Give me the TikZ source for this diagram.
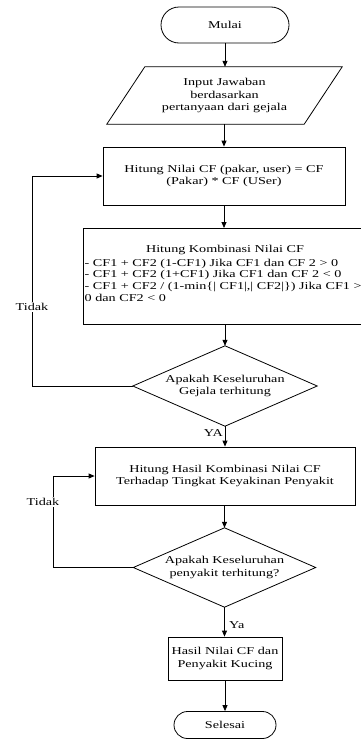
\documentclass[tikz,border=0pt]{standalone}
\usepackage{fontspec}
\setmainfont{Liberation Serif}[FakeStretch=1.35]
\usetikzlibrary{arrows.meta}
\begin{document}
\begin{tikzpicture}[x=1pt,y=-1pt,
  lbl/.style={font=\fontsize{10.5}{12.8}\selectfont, inner sep=0pt, align=center},
  boxn/.style={lbl, draw, line width=0.8pt},
  term/.style={lbl, draw, line width=0.8pt, rounded corners=#1},
  outline/.style={draw, line width=0.8pt},
  arr/.style={line width=0.8pt, -{Triangle[length=6pt,width=5pt]}},
  conn/.style={line width=0.8pt}
]
\useasboundingbox (0,0) rectangle (360,739);
% terminator start
\node[term=18pt, minimum width=128pt, minimum height=36pt] (start) at (225,25) {Mulai};
% input parallelogram
\node[lbl, minimum width=159pt, minimum height=57pt] (input) at (224.5,95.5) {Input Jawaban\\berdasarkan\\pertanyaan dari gejala};
\draw[outline] (input.north west) -- ([xshift=38pt]input.north east) -- (input.south east) -- ([xshift=-38pt]input.south west) -- cycle;
% box1
\node[boxn, minimum width=242pt, minimum height=58pt] (box1) at (224,176) {Hitung Nilai CF (pakar, user) = CF\\(Pakar) * CF (USer)};
% box2
\node[draw, line width=0.8pt, minimum width=290pt, minimum height=96pt, anchor=north west, inner sep=0pt] (box2) at (83,228) {};
\node[lbl] (box2t) at (225,250) {Hitung Kombinasi Nilai CF};
\node[lbl, align=left, anchor=west, font=\fontsize{10.5}{11.7}\selectfont] (box2l) at (84.5,280) {- CF1 + CF2 (1-CF1) Jika CF1 dan CF 2 > 0\\- CF1 + CF2 (1+CF1) Jika CF1 dan CF 2 < 0\\- CF1 + CF2 / (1-min\{| CF1|,| CF2|\}) Jika CF1 >\\0 dan CF2 < 0};
% decision 1
\node[lbl, minimum width=184pt, minimum height=80pt] (d1) at (225,386) {Apakah Keseluruhan\\Gejala terhitung};
\draw[outline] (d1.north) -- (d1.east) -- (d1.south) -- (d1.west) -- cycle;
% box3
\node[boxn, minimum width=260pt, minimum height=58pt] (box3) at (225,476) {Hitung Hasil Kombinasi Nilai CF\\Terhadap Tingkat Keyakinan Penyakit};
% decision 2
\node[lbl, minimum width=182pt, minimum height=79pt] (d2) at (224.5,567.5) {Apakah Keseluruhan\\penyakit terhitung?};
\draw[outline] (d2.north) -- (d2.east) -- (d2.south) -- (d2.west) -- cycle;
% box4
\node[boxn, minimum width=114pt, minimum height=43pt] (box4) at (225,658.5) {Hasil Nilai CF dan\\Penyakit Kucing};
% end
\node[term=13.5pt, minimum width=102pt, minimum height=27pt] (end) at (225,725) {Selesai};
% arrows
\draw[arr] (start.south) -- (start.south |- input.north);
\draw[arr] (input.south -| box1.north) -- (box1.north);
\draw[arr] (box1.south) -- (box1.south |- box2.north);
\draw[arr] (box2.south -| d1.north) -- (d1.north);
\draw[arr] (d1.south) -- (d1.south |- box3.north);
\draw[arr] (box3.south -| d2.north) -- (d2.north);
\draw[arr] (d2.south) -- (d2.south |- box4.north);
\draw[arr] (box4.south) -- (end.north);
% loops
\coordinate (l1) at (32,386);
\draw[arr] (d1.west) -- (l1) -- (l1 |- box1.west) -- (box1.west);
\node[lbl, fill=white, inner sep=1.5pt] (t1) at (32,307) {Tidak};
\coordinate (l2) at (53,567.5);
\draw[arr] (d2.west) -- (l2) -- (l2 |- box3.west) -- (box3.west);
\node[lbl, fill=white, inner sep=1.5pt] (t2) at (43,502) {Tidak};
% labels
\node[lbl, anchor=east] (ya1) at (223,433) {YA};
\node[lbl, anchor=west] (ya2) at (229,625) {Ya};
\end{tikzpicture}
\end{document}
